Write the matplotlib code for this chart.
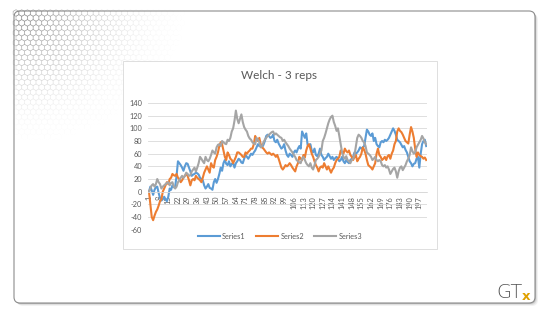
import numpy as np
import matplotlib
matplotlib.use("Agg")
import matplotlib.pyplot as plt
from matplotlib.patches import FancyBboxPatch, Rectangle
from matplotlib.collections import PolyCollection

plt.rcParams['font.family'] = ['Lato', 'DejaVu Sans']
plt.rcParams['axes.unicode_minus'] = False

# ---------------- data ----------------
title = "Welch - 3 reps"
series_names = ["Series1", "Series2", "Series3"]

series1 = [0, 8, 2, -5, 3, 7, 8, -2, -10, -14, -12, -8, -12, -15, -8, 5, 3, 10, 7, 8,
           25, 48, 45, 42, 38, 33, 40, 45, 44, 38, 32, 25, 27, 28, 30, 29, 27, 22, 20, 18,
           10, 5, 8, 12, 6, 5, 3, 15, 20, 14, 20, 28, 38, 33, 45, 50, 44, 42, 48, 40,
           44, 45, 38, 45, 48, 52, 50, 46, 45, 52, 58, 55, 52, 56, 60, 58, 62, 65, 70, 75,
           72, 72, 70, 74, 80, 88, 90, 88, 85, 86, 90, 80, 78, 82, 76, 72, 68, 70, 75, 65,
           58, 55, 60, 58, 55, 62, 65, 62, 68, 72, 68, 95, 90, 85, 92, 74, 72, 75, 65, 62,
           68, 58, 56, 60, 68, 58, 55, 50, 53, 55, 60, 56, 52, 55, 50, 53, 55, 52, 48, 50,
           55, 48, 45, 50, 47, 45, 50, 52, 55, 62, 60, 62, 65, 70, 68, 70, 72, 85, 98, 95,
           90, 88, 92, 80, 85, 75, 72, 70, 78, 80, 78, 82, 80, 82, 85, 90, 95, 100, 96, 90,
           82, 80, 78, 74, 70, 72, 66, 62, 55, 48, 45, 40, 44, 45, 52, 55, 38, 60, 75, 80,
           82, 72]

series2 = [0, -20, -40, -45, -38, -32, -28, -22, -15, -12, 0, 5, 10, 15, 12, 20, 22, 28, 26, 25,
           28, 22, 20, 15, 18, 22, 25, 28, 25, 18, 10, 18, 20, 18, 25, 22, 20, 18, 15, 22,
           30, 35, 40, 35, 30, 45, 40, 38, 50, 55, 62, 72, 78, 75, 65, 55, 50, 62, 58, 52,
           50, 45, 50, 55, 62, 62, 60, 58, 55, 55, 62, 60, 63, 65, 68, 68, 75, 88, 82, 80,
           85, 75, 70, 68, 65, 62, 60, 62, 60, 58, 60, 58, 55, 58, 52, 45, 38, 35, 38, 42,
           40, 42, 45, 42, 38, 35, 32, 40, 45, 55, 52, 50, 58, 54, 65, 72, 75, 68, 60, 55,
           48, 42, 38, 32, 38, 40, 38, 45, 40, 35, 40, 35, 30, 35, 38, 45, 50, 52, 55, 65,
           62, 60, 68, 64, 62, 65, 58, 55, 50, 55, 58, 48, 52, 55, 60, 70, 66, 60, 50, 42,
           40, 38, 35, 40, 45, 60, 68, 58, 55, 50, 52, 55, 50, 56, 58, 52, 60, 65, 75, 80,
           95, 100, 96, 94, 90, 85, 80, 78, 76, 90, 102, 95, 85, 68, 55, 62, 58, 56, 55, 52,
           54, 50]

series3 = [0, 5, 10, 12, 8, 12, 20, 15, 12, 5, 8, 10, 12, 14, 15, 10, 14, 15, 8, 5,
           8, 15, 18, 22, 25, 22, 25, 30, 28, 25, 26, 32, 35, 38, 32, 38, 45, 55, 52, 48,
           45, 55, 50, 48, 52, 58, 65, 62, 60, 70, 74, 75, 72, 80, 78, 76, 75, 82, 80, 85,
           95, 100, 112, 128, 115, 108, 115, 122, 110, 102, 98, 95, 88, 84, 82, 78, 76, 75, 85, 82,
           78, 70, 72, 78, 82, 85, 88, 90, 92, 94, 95, 90, 92, 90, 88, 86, 85, 80, 82, 78,
           75, 72, 68, 65, 62, 58, 55, 50, 48, 46, 45, 52, 55, 50, 45, 42, 40, 45, 38, 35,
           42, 50, 52, 55, 60, 65, 80, 85, 92, 100, 108, 114, 118, 120, 110, 104, 96, 100, 88, 75,
           62, 55, 52, 56, 50, 48, 45, 50, 52, 58, 72, 85, 90, 88, 85, 80, 78, 72, 62, 60,
           58, 55, 50, 52, 55, 50, 48, 50, 48, 42, 40, 42, 38, 40, 35, 28, 32, 36, 38, 32,
           22, 32, 38, 40, 34, 38, 42, 48, 52, 58, 70, 64, 60, 62, 70, 74, 78, 82, 88, 84,
           78, 75]

y_ticks = [-60, -40, -20, 0, 20, 40, 60, 80, 100, 120, 140]
colors = ["#5B9BD5", "#ED7D31", "#A5A5A5"]

W, H = 550, 322
fig = plt.figure(figsize=(W / 100, H / 100), dpi=100)
fig.patch.set_facecolor("white")

# background layer in pixel coordinates (slide, hexagons, logo)
bg = fig.add_axes([0, 0, 1, 1])
bg.set_xlim(0, W)
bg.set_ylim(H, 0)
bg.axis("off")

# slide shadow + slide
for off, a in [(3, 0.05), (2, 0.08), (1, 0.15)]:
    bg.add_patch(FancyBboxPatch((14 + off, 11 + off), 521, 292,
                                boxstyle="round,pad=0,rounding_size=6",
                                fc="#000000", ec="none", alpha=a))
bg.add_patch(FancyBboxPatch((14, 11), 521, 292, boxstyle="round,pad=0,rounding_size=6",
                            fc="white", ec="#8c8c8c", lw=0.8))

# faded hexagon pattern in the top left corner
r = 3.3
hexes = []
ecols = []
ang = np.deg2rad(np.arange(6) * 60 + 30)
row = 0
yc = 13.0
while yc < 170:
    xc = 16.0 + (r * np.sqrt(3) / 2 if row % 2 else 0)
    while xc < 260:
        d = np.hypot((xc - 14) / 1.3, (yc - 11))
        a = 1 - d / 140
        if a > 0.02 and xc + r < 534 and yc + r < 302:
            hexes.append(np.column_stack([xc + r * np.cos(ang), yc + r * np.sin(ang)]))
            ecols.append((0.5, 0.5, 0.5, 0.75 * min(1, a) ** 2.2))
        xc += r * np.sqrt(3)
    yc += 1.5 * r
    row += 1
bg.add_collection(PolyCollection(hexes, facecolors="none", edgecolors=ecols, linewidths=0.45))

# chart box
bg.add_patch(Rectangle((123, 61), 314, 188, fc="white", ec="#d9d9d9", lw=0.6))

# GTx logo
bg.text(496, 293, "GT", fontsize=14, color="#555555", family="DejaVu Sans",
        fontweight="light", va="center", ha="left")
bg.text(522, 296, "x", fontsize=9.5, color="#E0A100", family="DejaVu Sans",
        fontweight="bold", va="center", ha="left")

# ---------------- the chart ----------------
n = len(series1)
cats = np.arange(1, n + 1)
ax = fig.add_axes([148.3 / W, 1 - 229.7 / H, 278.6 / W, (229.7 - 103) / H])
ax.patch.set_alpha(0)

for vals, name, c in zip([series1, series2, series3], series_names, colors):
    ax.plot(cats, vals, color=c, lw=1.5, label=name, solid_joinstyle="round")

ax.set_xlim(0.5, n + 0.5)
ax.set_ylim(-60, 140)
ax.set_yticks(y_ticks)
ax.set_yticklabels([str(v) for v in y_ticks])
xt = list(range(1, n + 1, 7))
ax.set_xticks(xt)
ax.set_xticklabels([str(v) for v in xt])
ax.grid(axis="y", color="#d9d9d9", lw=0.6)
ax.set_axisbelow(True)
for s in ["top", "right", "left"]:
    ax.spines[s].set_visible(False)
ax.spines["bottom"].set_position(("data", 0))
ax.spines["bottom"].set_color("#d9d9d9")
ax.spines["bottom"].set_linewidth(0.6)
ax.tick_params(axis="both", length=0, labelsize=5.3, colors="#595959")
ax.tick_params(axis="y", pad=4.5)
ax.tick_params(axis="x", pad=3, labelrotation=90)

fig.text(279 / W, 1 - 75 / H, title, fontsize=8.5, color="#595959", ha="center", va="center")

leg = fig.legend(loc="center", bbox_to_anchor=(280 / W, 1 - 236.5 / H), ncol=3, frameon=False,
                 fontsize=5.3, handlelength=3.0, handletextpad=0.3, columnspacing=1.4)
for t in leg.get_texts():
    t.set_color("#595959")

fig.savefig("out.png", dpi=100)
